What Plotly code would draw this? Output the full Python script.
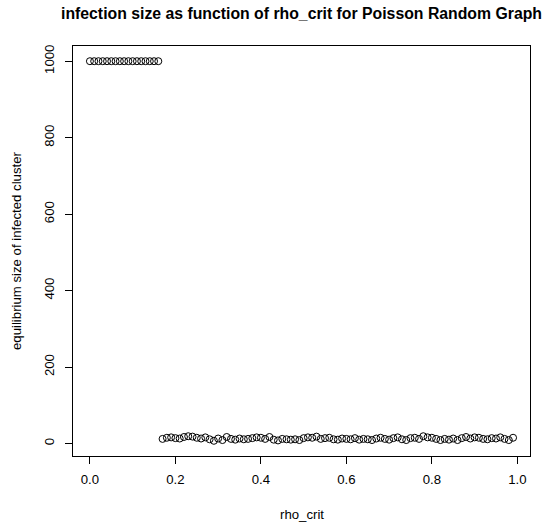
import numpy as np
import plotly.graph_objects as go

# rho_crit grid (0.00 .. 0.99) and equilibrium infected-cluster size
rho_crit = [round(i * 0.01, 2) for i in range(100)]

size_high = [1000] * 17  # rho_crit 0.00 .. 0.16
size_low = [
    12, 15, 16, 14, 13, 17, 19, 18, 15, 13,
    16, 11, 7, 13, 9, 17, 12, 10, 13, 11,
    12, 14, 16, 15, 12, 17, 10, 8, 12, 11,
    10, 11, 9, 14, 16, 15, 18, 12, 14, 15,
    11, 10, 13, 12, 11, 14, 10, 12, 11, 9,
    13, 15, 12, 10, 14, 16, 11, 9, 14, 15,
    12, 19, 16, 15, 12, 9, 12, 10, 13, 9,
    14, 17, 13, 16, 15, 12, 11, 14, 13, 16,
    12, 9, 15,
]  # rho_crit 0.17 .. 0.99
infected = size_high + size_low

x_ticks = [0.0, 0.2, 0.4, 0.6, 0.8, 1.0]
x_tick_text = ["0.0", "0.2", "0.4", "0.6", "0.8", "1.0"]
y_ticks = [0, 200, 400, 600, 800, 1000]
y_tick_text = ["0", "200", "400", "600", "800", "1000"]

title_text = "infection size as function of rho_crit for Poisson Random Graph"
x_label = "rho_crit"
y_label = "equilibrium size of infected cluster"

# axis limits padded by 4% like base R graphics
def padded(lo, hi, frac=0.04):
    d = (hi - lo) * frac
    return [lo - d, hi + d]

x_range = padded(min(rho_crit), max(rho_crit))
y_range = padded(min(infected), max(infected))

FONT = "Liberation Sans, Arial, sans-serif"
BASE = 13.2

fig = go.Figure(
    go.Scatter(
        x=rho_crit,
        y=infected,
        mode="markers",
        marker=dict(
            symbol="circle-open",
            size=7,
            color="black",
            line=dict(width=1, color="black"),
        ),
        hoverinfo="x+y",
    )
)

axis_common = dict(
    showgrid=False,
    zeroline=False,
    showline=True,
    linecolor="black",
    linewidth=1,
    mirror=True,
    ticks="outside",
    ticklen=7,
    tickwidth=1,
    tickcolor="black",
    tickfont=dict(family=FONT, size=BASE, color="black"),
)

fig.update_layout(
    width=545,
    height=527,
    margin=dict(l=73, r=15, t=46, b=71),
    paper_bgcolor="white",
    plot_bgcolor="white",
    showlegend=False,
    font=dict(family=FONT, color="black"),
    xaxis=dict(
        range=x_range,
        tickvals=x_ticks,
        ticktext=x_tick_text,
        ticklabelstandoff=4,
        **axis_common,
    ),
    yaxis=dict(
        range=y_range,
        tickvals=y_ticks,
        ticktext=y_tick_text,
        tickangle=-90,
        ticklabelstandoff=6,
        **axis_common,
    ),
    annotations=[
        dict(
            text="<b>%s</b>" % title_text,
            xref="paper", yref="paper",
            x=0.5, y=1 + (46 - 14) / 410,
            xanchor="center", yanchor="middle",
            showarrow=False,
            font=dict(family=FONT, size=15.8, color="black"),
        ),
        dict(
            text=x_label,
            xref="paper", yref="paper",
            x=0.5, y=-(514 - 456) / 410,
            xanchor="center", yanchor="middle",
            showarrow=False,
            font=dict(family=FONT, size=BASE, color="black"),
        ),
        dict(
            text=y_label,
            xref="paper", yref="paper",
            x=-(73 - 16) / 457, y=0.5,
            xanchor="center", yanchor="middle",
            textangle=-90,
            showarrow=False,
            font=dict(family=FONT, size=BASE, color="black"),
        ),
    ],
)

fig.write_html("out.html")
